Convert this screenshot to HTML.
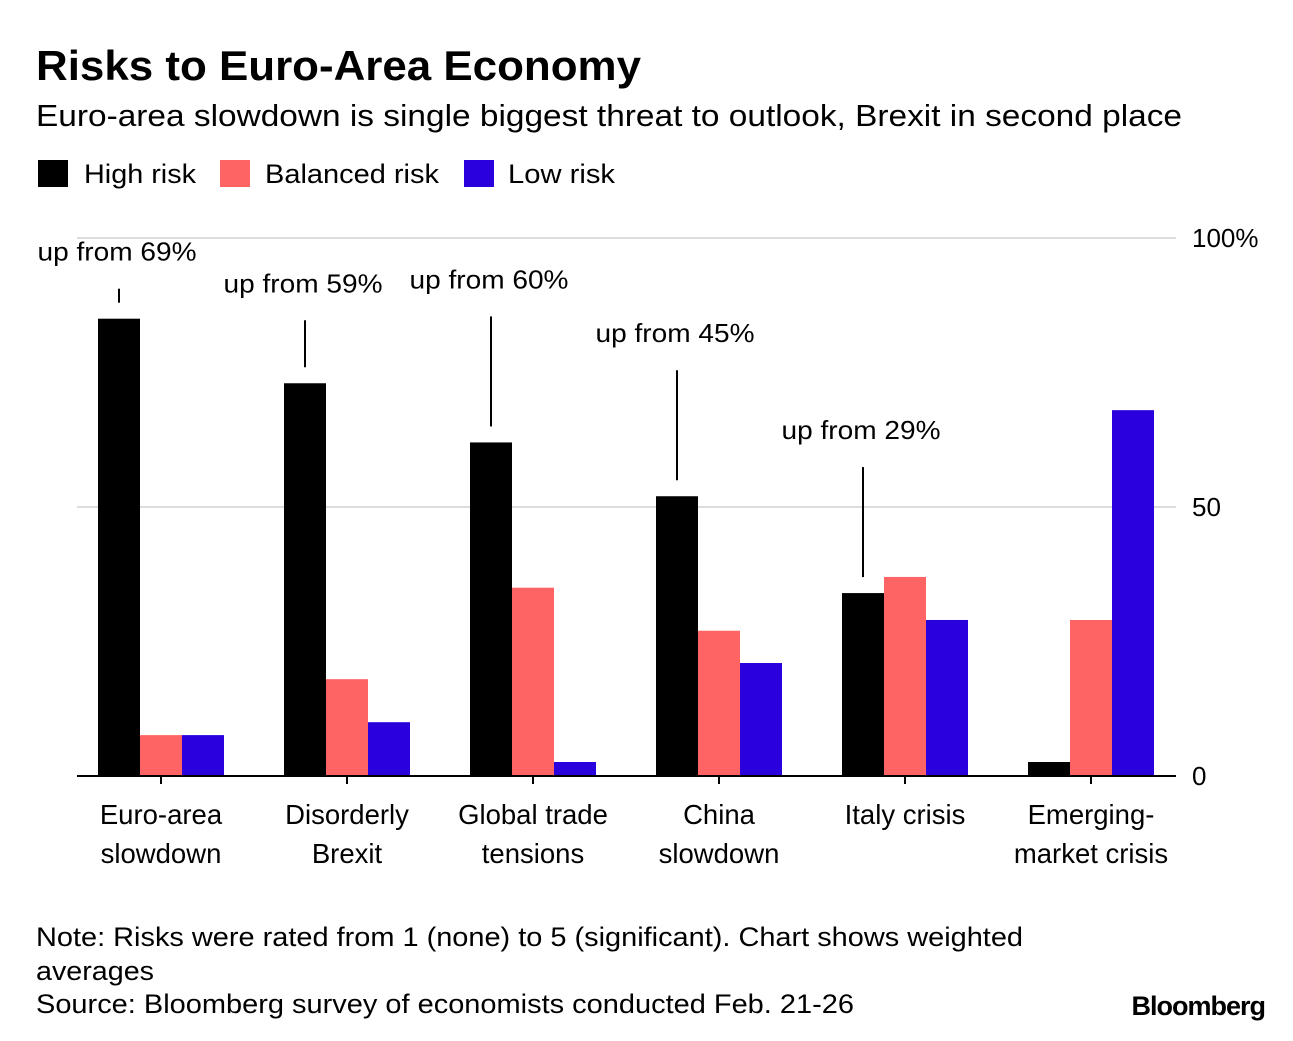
<!DOCTYPE html>
<html><head><meta charset="utf-8"><style>
body{margin:0;background:#fff;width:1293px;height:1036px;overflow:hidden;font-family:"Liberation Sans",sans-serif;}
svg text{font-family:"Liberation Sans",sans-serif;}
</style></head><body>
<svg id="c" width="1293" height="1036">
<text x="36" y="80" font-size="42" font-weight="bold" fill="#000" textLength="605" lengthAdjust="spacingAndGlyphs">Risks to Euro-Area Economy</text>
<text x="36" y="126" font-size="31" fill="#000" textLength="1146" lengthAdjust="spacingAndGlyphs">Euro-area slowdown is single biggest threat to outlook, Brexit in second place</text>
<g>
<rect x="38" y="160" width="30" height="27" fill="#000"/>
<text x="84" y="183" font-size="27" textLength="112" lengthAdjust="spacingAndGlyphs">High risk</text>
<rect x="220" y="160" width="30" height="27" fill="#ff6464"/>
<text x="265" y="183" font-size="27" textLength="174" lengthAdjust="spacingAndGlyphs">Balanced risk</text>
<rect x="464" y="160" width="30" height="27" fill="#2a00dc"/>
<text x="508" y="183" font-size="27" textLength="107" lengthAdjust="spacingAndGlyphs">Low risk</text>
</g>
<g id="plot"></g>
<text x="36" y="946" font-size="27" textLength="987" lengthAdjust="spacingAndGlyphs">Note: Risks were rated from 1 (none) to 5 (significant). Chart shows weighted</text>
<text x="36" y="980" font-size="27" textLength="118" lengthAdjust="spacingAndGlyphs">averages</text>
<text x="36" y="1013" font-size="27" textLength="818" lengthAdjust="spacingAndGlyphs">Source: Bloomberg survey of economists conducted Feb. 21-26</text>
<text x="1265" y="1015" font-size="27" font-weight="bold" text-anchor="end" letter-spacing="-1">Bloomberg</text>
</svg>
<script>
const categories=[["Euro-area","slowdown"],["Disorderly","Brexit"],["Global trade","tensions"],["China","slowdown"],["Italy crisis",""],["Emerging-","market crisis"]];
const highRisk=[85,73,62,52,34,2.6];
const balancedRisk=[7.6,18,35,27,37,29];
const lowRisk=[7.6,10,2.6,21,29,68];
const annotations=["up from 69%","up from 59%","up from 60%","up from 45%","up from 29%",null];
const yTicks=[0,50,100];
const yTickLabels=["0","50","100%"];
const NS="http://www.w3.org/2000/svg";
const g=document.getElementById('plot');
const y0=776,y100=238,xL=77,xR=1176;
function y(v){return y0-(y0-y100)*v/100;}
function cx(i){return 161+186*i;}
function el(t,a){const e=document.createElementNS(NS,t);for(const k in a)e.setAttribute(k,a[k]);g.appendChild(e);return e;}
yTicks.forEach((t,i)=>{
 if(t>0){const l=el('line',{x1:xL,x2:xR,y1:y(t),y2:y(t),stroke:'#ddd','stroke-width':2});
 
 }
 const tx=el('text',{x:1192,y:y(t)+9,'font-size':26});tx.textContent=yTickLabels[i];
 
 
});
const series=[[highRisk,'#000','high'],[balancedRisk,'#ff6464','balanced'],[lowRisk,'#2a00dc','low']];
const bw=42;
categories.forEach((c,i)=>{
 series.forEach((s,j)=>{
  const v=s[0][i];const x=cx(i)-63+bw*j;
  const r=el('rect',{x:x,y:y(v),width:bw,height:y0-y(v),fill:s[1]});
  
  
 });
 const tk=el('line',{x1:cx(i),x2:cx(i),y1:y0,y2:y0+8,stroke:'#000','stroke-width':2});
 
 
 c.forEach((ln,k)=>{if(!ln)return;
  const t=el('text',{x:cx(i),y:824+k*39,'font-size':27.5,'text-anchor':'middle'});t.textContent=ln;
  
  
 });
 if(annotations[i]){
  const bx=cx(i)-42, top=y(highRisk[i])-16;
  const len=i===0?14:110-(i===1?63:0);
  const ln=el('line',{x1:bx,x2:bx,y1:top-len,y2:top,stroke:'#000','stroke-width':2});
  
  
  const t=el('text',{x:bx-2,y:top-len-28,'font-size':26,'text-anchor':'middle',textLength:159,lengthAdjust:'spacingAndGlyphs'});t.textContent=annotations[i];
  
  
 }
});
const ax=el('line',{x1:xL,x2:xR,y1:y0,y2:y0,stroke:'#000','stroke-width':2});


</script>
</body></html>
